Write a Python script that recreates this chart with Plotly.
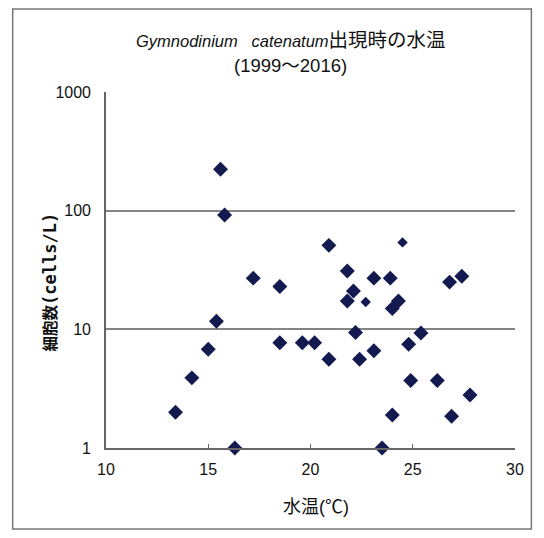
import plotly.graph_objects as go

# Data (water temperature °C, cells/L)
temp = [15.6, 15.8, 20.9, 17.2, 18.5, 15.4, 15.0, 14.2, 13.4, 16.3,
        18.5, 19.6, 20.2, 20.9, 21.8, 23.1, 23.9, 26.8, 27.4, 22.1,
        21.8, 24.3, 24.0, 22.2, 25.4, 22.4, 23.1, 24.8, 24.9, 26.2,
        27.8, 24.0, 26.9, 23.5]
cells = [223, 92, 51, 27, 23, 11.7, 6.8, 3.9, 2.0, 1.0,
         7.7, 7.7, 7.7, 5.6, 31, 27, 27, 25, 28, 21,
         17.3, 17.3, 15.0, 9.4, 9.3, 5.6, 6.6, 7.5, 3.7, 3.7,
         2.8, 1.9, 1.85, 1.0]
temp_small = [24.5, 22.7]
cells_small = [54, 17]

x_ticks = [10, 15, 20, 25, 30]
y_ticks = [1, 10, 100, 1000]
y_ticktext = ["1", "10", "100", "1000"]

title_line1 = ("<i>Gymnodinium\u00a0\u00a0 catenatum</i>"
               "<span style='font-size:19.5px'>出現時の水温</span>")
title_line2 = "(1999～2016)"
x_title = "水温(℃)"
y_title = ("<b><span style='font-size:15.5px'>細胞数</span>"
           "<span style='font-family:DejaVu Sans Mono;font-size:17px'>(cells/L)</span></b>")

FONT = "Liberation Sans, Arial, Noto Sans CJK JP"
MARK = "#121a50"

# page body has an 8px margin: keep the figure inside the window
W, H = 528, 522
L, T = 98, 84
PW, PH = 412, 356

fig = go.Figure()
fig.add_trace(go.Scatter(x=temp, y=cells, mode="markers",
                         marker=dict(symbol="diamond", size=11.5, color=MARK,
                                     line=dict(width=0)),
                         showlegend=False, cliponaxis=False))
fig.add_trace(go.Scatter(x=temp_small, y=cells_small, mode="markers",
                         marker=dict(symbol="diamond", size=8, color=MARK,
                                     line=dict(width=0)),
                         showlegend=False, cliponaxis=False))

fx0, fx1 = (4 - L) / PW, (526.5 - L) / PW
fy0, fy1 = (T + PH - 521) / PH, (T + PH - 1) / PH

fig.update_layout(
    width=W, height=H,
    margin=dict(l=L, r=W - L - PW, t=T, b=H - T - PH),
    paper_bgcolor="white", plot_bgcolor="white",
    font=dict(family=FONT, color="#111", size=16),
    xaxis=dict(range=[10, 30], tickvals=x_ticks, showgrid=False, zeroline=False,
               showline=True, linecolor="#666", linewidth=1.6,
               ticks="inside", ticklen=4, tickcolor="#666", tickwidth=1.2,
               tickfont=dict(size=16), ticklabelstandoff=6),
    yaxis=dict(type="log", range=[0, 3], tickvals=y_ticks, ticktext=y_ticktext,
               showgrid=True, gridcolor="#858585", gridwidth=1.6, zeroline=False,
               showline=True, linecolor="#666", linewidth=1.6,
               ticks="", tickfont=dict(size=16), ticklabelstandoff=10),
    shapes=[dict(type="rect", xref="paper", yref="paper", layer="above",
                 x0=fx0, x1=fx1, y0=fy0, y1=fy1,
                 line=dict(color="#777", width=1.5))],
    annotations=[
        dict(text=title_line1, xref="paper", yref="paper", x=0.453, y=1.145,
             showarrow=False, font=dict(size=16.5), xanchor="center", yanchor="middle"),
        dict(text=title_line2, xref="paper", yref="paper", x=0.450, y=1.075,
             showarrow=False, font=dict(size=18.5), xanchor="center", yanchor="middle"),
        dict(text=x_title, xref="paper", yref="paper", x=0.513, y=-0.165,
             showarrow=False, font=dict(size=18), xanchor="center", yanchor="middle"),
        dict(text=y_title, xref="paper", yref="paper", x=-0.136, y=0.466,
             showarrow=False, textangle=-90,
             xanchor="center", yanchor="middle"),
    ],
)

fig.write_html("out.html")
